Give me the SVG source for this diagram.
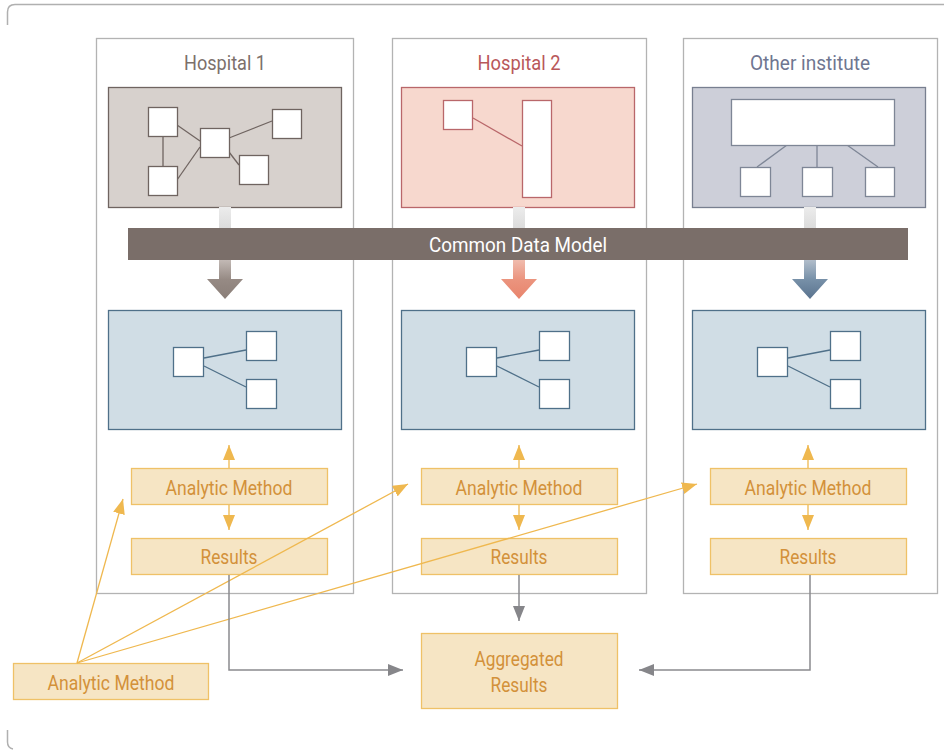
<svg xmlns="http://www.w3.org/2000/svg" width="944" height="750" viewBox="0 0 944 750">
<defs>
<style>
.panel{fill:#fff;stroke:#b3b3b3;stroke-width:1.3}
.title{font-family:Roboto,"Liberation Sans",sans-serif;font-size:21px;font-weight:400;text-anchor:middle}
.wsq{fill:#fff}
.cdm{fill:#d0dde5;stroke:#4f7089;stroke-width:1.3}
.cdmsq{fill:#fff;stroke:#4f7089;stroke-width:1.3}
.cdmln{stroke:#4f7089;stroke-width:1.3;fill:none}
.ob{fill:#f6e5c4;stroke:#efc167;stroke-width:1.3}
.ot{font-family:Roboto,"Liberation Sans",sans-serif;font-size:21px;font-weight:400;fill:#d3913a;text-anchor:middle}
.oline{stroke:#efb84f;stroke-width:1.3;fill:none}
.gline{stroke:#8b8b8f;stroke-width:1.5;fill:none}
</style>
<marker id="oa" markerUnits="userSpaceOnUse" markerWidth="16" markerHeight="12" refX="15" refY="6" orient="auto">
<path d="M0,0 L15,6 L0,12 Z" fill="#efb84f"/>
</marker>
<marker id="ga" markerUnits="userSpaceOnUse" markerWidth="16" markerHeight="12" refX="15" refY="6" orient="auto">
<path d="M0,0 L15,6 L0,12 Z" fill="#86868a"/>
</marker>
<linearGradient id="stemTop" x1="0" y1="0" x2="0" y2="1">
<stop offset="0" stop-color="#ececec"/><stop offset="1" stop-color="#dcdcdc"/>
</linearGradient>
<linearGradient id="g1" x1="0" y1="0" x2="0" y2="1">
<stop offset="0" stop-color="#c2b9b5"/><stop offset="0.5" stop-color="#968a84"/><stop offset="1" stop-color="#8a7e78"/>
</linearGradient>
<linearGradient id="g2" x1="0" y1="0" x2="0" y2="1">
<stop offset="0" stop-color="#f0bcae"/><stop offset="0.5" stop-color="#eb947e"/><stop offset="1" stop-color="#e8846c"/>
</linearGradient>
<linearGradient id="g3" x1="0" y1="0" x2="0" y2="1">
<stop offset="0" stop-color="#b1bdca"/><stop offset="0.5" stop-color="#7790a8"/><stop offset="1" stop-color="#5a738e"/>
</linearGradient>
</defs>

<rect width="944" height="750" fill="#fff"/>
<path d="M7.5,25 L7.5,12 Q7.5,4.5 15,4.5 L944,4.5" fill="none" stroke="#b0b0b0" stroke-width="1.5"/>
<path d="M7.5,730 L7.5,742 Q7.5,748 13,749" fill="none" stroke="#b0b0b0" stroke-width="1.5"/>

<g id="hospital1">
<rect class="panel" x="96.5" y="38.5" width="257" height="555"/>
<text class="title" x="225" y="70" fill="#7c706b" textLength="82" lengthAdjust="spacingAndGlyphs">Hospital 1</text>
<rect x="108.5" y="87.5" width="233" height="120" fill="#d7d1cd" stroke="#6f6460" stroke-width="1.3"/>
<g stroke="#6f6460" stroke-width="1.3">
<line x1="163" y1="136" x2="163" y2="166"/>
<line x1="177" y1="125" x2="200" y2="141"/>
<line x1="177" y1="180" x2="200" y2="147"/>
<line x1="229" y1="138" x2="272" y2="121"/>
<line x1="229" y1="152" x2="239" y2="165"/>
<rect class="wsq" x="148.5" y="107.5" width="29" height="29"/>
<rect class="wsq" x="148.5" y="166.5" width="29" height="29"/>
<rect class="wsq" x="200.5" y="128.5" width="29" height="29"/>
<rect class="wsq" x="272.5" y="109.5" width="29" height="29"/>
<rect class="wsq" x="239.5" y="155.5" width="29" height="29"/>
</g>
</g>

<g id="hospital2">
<rect class="panel" x="392.5" y="38.5" width="254" height="555"/>
<text class="title" x="519" y="70" fill="#b9585a" textLength="83" lengthAdjust="spacingAndGlyphs">Hospital 2</text>
<rect x="401.5" y="87.5" width="233" height="120" fill="#f7d8ce" stroke="#b9676a" stroke-width="1.3"/>
<g stroke="#b9676a" stroke-width="1.3">
<line x1="473" y1="118" x2="522" y2="146"/>
<rect class="wsq" x="443.5" y="100.5" width="29" height="29"/>
<rect class="wsq" x="522.5" y="100.5" width="29" height="97"/>
</g>
</g>

<g id="other-institute">
<rect class="panel" x="683.5" y="38.5" width="254" height="555"/>
<text class="title" x="810" y="70" fill="#6f7691" textLength="120" lengthAdjust="spacingAndGlyphs">Other institute</text>
<rect x="692.5" y="87.5" width="233" height="120" fill="#cdcfd9" stroke="#787f90" stroke-width="1.3"/>
<g stroke="#7e8696" stroke-width="1.3">
<line x1="787" y1="145" x2="757" y2="167"/>
<line x1="817" y1="145" x2="817" y2="167"/>
<line x1="847" y1="145" x2="878" y2="167"/>
<rect class="wsq" x="731.5" y="99.5" width="163" height="46"/>
<rect class="wsq" x="740.5" y="167.5" width="30" height="29"/>
<rect class="wsq" x="802.5" y="167.5" width="30" height="29"/>
<rect class="wsq" x="865.5" y="167.5" width="29" height="29"/>
</g>
</g>

<g id="transform-arrows">
<rect x="219" y="207" width="12" height="21" fill="url(#stemTop)"/>
<rect x="513" y="207" width="12" height="21" fill="url(#stemTop)"/>
<rect x="804" y="207" width="12" height="21" fill="url(#stemTop)"/>
<path d="M219,260 L231,260 L231,279 L243,279 L225,299 L207,279 L219,279 Z" fill="url(#g1)"/>
<path d="M513,260 L525,260 L525,279 L537,279 L519,299 L501,279 L513,279 Z" fill="url(#g2)"/>
<path d="M804,260 L816,260 L816,279 L828,279 L810,299 L792,279 L804,279 Z" fill="url(#g3)"/>
</g>

<g id="common-data-model">
<rect x="128" y="228" width="780" height="32" fill="#7a6e69"/>
<text x="518" y="252" font-family="Roboto,'Liberation Sans',sans-serif" font-size="21" fill="#fff" text-anchor="middle" textLength="178" lengthAdjust="spacingAndGlyphs">Common Data Model</text>
</g>

<g id="cdm1">
<rect class="cdm" x="108.5" y="310.5" width="233" height="119"/>
<line class="cdmln" x1="204" y1="358" x2="246" y2="350"/>
<line class="cdmln" x1="204" y1="366" x2="246" y2="387"/>
<rect class="cdmsq" x="173.5" y="347.5" width="30" height="29"/>
<rect class="cdmsq" x="246.5" y="331.5" width="30" height="29"/>
<rect class="cdmsq" x="246.5" y="379.5" width="30" height="29"/>
</g>
<g id="cdm2">
<rect class="cdm" x="401.5" y="310.5" width="233" height="119"/>
<line class="cdmln" x1="497" y1="358" x2="539" y2="350"/>
<line class="cdmln" x1="497" y1="366" x2="539" y2="387"/>
<rect class="cdmsq" x="466.5" y="347.5" width="30" height="29"/>
<rect class="cdmsq" x="539.5" y="331.5" width="30" height="29"/>
<rect class="cdmsq" x="539.5" y="379.5" width="30" height="29"/>
</g>
<g id="cdm3">
<rect class="cdm" x="692.5" y="310.5" width="233" height="119"/>
<line class="cdmln" x1="788" y1="358" x2="830" y2="350"/>
<line class="cdmln" x1="788" y1="366" x2="830" y2="387"/>
<rect class="cdmsq" x="757.5" y="347.5" width="30" height="29"/>
<rect class="cdmsq" x="830.5" y="331.5" width="30" height="29"/>
<rect class="cdmsq" x="830.5" y="379.5" width="30" height="29"/>
</g>

<g id="method1">
<rect class="ob" x="131.5" y="468.5" width="196" height="36"/>
<text class="ot" x="229" y="495" textLength="127" lengthAdjust="spacingAndGlyphs">Analytic Method</text>
</g>
<g id="results1">
<rect class="ob" x="131.5" y="538.5" width="196" height="36"/>
<text class="ot" x="229" y="564" textLength="57" lengthAdjust="spacingAndGlyphs">Results</text>
</g>
<g id="method2">
<rect class="ob" x="421.5" y="468.5" width="196" height="36"/>
<text class="ot" x="519" y="495" textLength="127" lengthAdjust="spacingAndGlyphs">Analytic Method</text>
</g>
<g id="results2">
<rect class="ob" x="421.5" y="538.5" width="196" height="36"/>
<text class="ot" x="519" y="564" textLength="57" lengthAdjust="spacingAndGlyphs">Results</text>
</g>
<g id="method3">
<rect class="ob" x="710.5" y="468.5" width="196" height="36"/>
<text class="ot" x="808" y="495" textLength="127" lengthAdjust="spacingAndGlyphs">Analytic Method</text>
</g>
<g id="results3">
<rect class="ob" x="710.5" y="538.5" width="196" height="36"/>
<text class="ot" x="808" y="564" textLength="57" lengthAdjust="spacingAndGlyphs">Results</text>
</g>
<g id="aggregated-results">
<rect class="ob" x="421.5" y="633.5" width="196" height="75"/>
<text class="ot" x="519" y="666" textLength="89" lengthAdjust="spacingAndGlyphs">Aggregated</text>
<text class="ot" x="519" y="692" textLength="57" lengthAdjust="spacingAndGlyphs">Results</text>
</g>
<g id="central-method">
<rect class="ob" x="13.5" y="663.5" width="195" height="36"/>
<text class="ot" x="111" y="690" textLength="127" lengthAdjust="spacingAndGlyphs">Analytic Method</text>
</g>

<g id="connectors">
<line class="oline" x1="229" y1="468" x2="229" y2="445" marker-end="url(#oa)"/>
<line class="oline" x1="229" y1="505" x2="229" y2="530" marker-end="url(#oa)"/>
<line class="oline" x1="519" y1="468" x2="519" y2="445" marker-end="url(#oa)"/>
<line class="oline" x1="519" y1="505" x2="519" y2="530" marker-end="url(#oa)"/>
<line class="oline" x1="808" y1="468" x2="808" y2="445" marker-end="url(#oa)"/>
<line class="oline" x1="808" y1="505" x2="808" y2="530" marker-end="url(#oa)"/>
<line class="oline" x1="77" y1="663" x2="123" y2="499" marker-end="url(#oa)"/>
<line class="oline" x1="77" y1="663" x2="408" y2="484" marker-end="url(#oa)"/>
<line class="oline" x1="77" y1="663" x2="697" y2="484" marker-end="url(#oa)"/>
<path class="gline" d="M229,575 L229,670 L403,670" marker-end="url(#ga)"/>
<line class="gline" x1="519" y1="575" x2="519" y2="621" marker-end="url(#ga)"/>
<path class="gline" d="M810,575 L810,670 L639,670" marker-end="url(#ga)"/>
</g>
</svg>
